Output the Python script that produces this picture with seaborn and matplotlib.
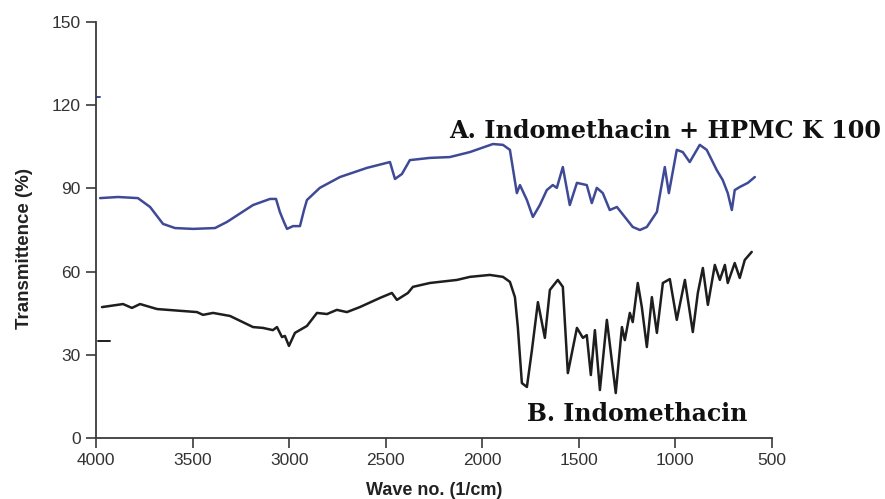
import matplotlib
matplotlib.use("Agg")
import matplotlib.pyplot as plt
import seaborn as sns
import pandas as pd

# Spectrum A: Indomethacin + HPMC K 100 (blue)
wave_a = [3979, 3886, 3783, 3720, 3653, 3591, 3498, 3384, 3322, 3187, 3099, 3068,
          3048, 3027, 3011, 2980, 2944, 2923, 2908, 2841, 2737, 2597, 2478, 2452,
          2416, 2375, 2271, 2168, 2064, 1945, 1893, 1857, 1821, 1805, 1769, 1738,
          1702, 1666, 1635, 1614, 1583, 1547, 1510, 1459, 1433, 1407, 1376, 1340,
          1303, 1221, 1184, 1148, 1096, 1055, 1034, 993, 962, 926, 874, 838, 786,
          755, 729, 708, 693, 667, 625, 589]
trans_a = [86.5, 86.9, 86.5, 83.3, 77.2, 75.7, 75.4, 75.7, 77.9, 84.0, 86.2, 86.2,
           81.5, 77.9, 75.4, 76.4, 76.4, 82.2, 85.8, 90.2, 94.1, 97.4, 99.5, 93.4,
           95.2, 100.2, 101.0, 101.3, 103.1, 106.0, 105.7, 103.9, 88.3, 91.2, 85.8, 79.7,
           84.0, 89.4, 91.2, 90.2, 97.7, 84.0, 92.0, 91.2, 84.7, 90.2, 88.3, 82.2,
           83.3, 76.1, 75.0, 76.1, 81.5, 97.7, 88.3, 103.9, 103.1, 99.5, 105.7, 103.9, 96.6,
           93.0, 88.3, 82.2, 89.4, 90.5, 92.0, 94.1]

# Spectrum B: Indomethacin (black)
wave_b = [3969, 3860, 3814, 3772, 3684, 3477, 3446, 3394, 3306, 3187, 3136, 3084,
          3063, 3037, 3022, 3001, 2970, 2908, 2856, 2804, 2753, 2701, 2634, 2530,
          2468, 2442, 2385, 2359, 2271, 2131, 2064, 1961, 1893, 1857, 1831, 1816,
          1795, 1769, 1743, 1712, 1676, 1650, 1609, 1583, 1557, 1510, 1479, 1459,
          1438, 1417, 1391, 1355, 1309, 1277, 1262, 1236, 1221, 1195, 1174, 1148,
          1122, 1096, 1065, 1029, 993, 951, 910, 884, 858, 832, 796, 770, 744, 729,
          693, 667, 641, 605]
trans_b = [47.2, 48.3, 46.9, 48.3, 46.5, 45.4, 44.4, 45.1, 44.0, 40.0, 39.7, 38.9,
           40.0, 36.4, 36.8, 33.2, 37.9, 40.4, 45.1, 44.7, 46.2, 45.4, 47.2, 50.5,
           52.3, 49.8, 52.3, 54.5, 55.9, 57.0, 58.1, 58.8, 58.1, 56.3, 50.8, 40.0,
           19.8, 18.4, 31.7, 49.0, 36.1, 53.4, 57.0, 54.5, 23.4, 39.7, 36.1, 37.1,
           22.7, 38.9, 17.3, 42.6, 16.2, 40.0, 35.3, 45.1, 41.8, 55.9, 47.2, 32.8,
           50.8, 37.9, 55.9, 57.3, 42.6, 57.0, 38.2, 52.3, 61.3, 48.0, 62.4, 57.0, 62.4, 55.9,
           63.1, 57.7, 64.2, 67.1]

# small stray fragments visible at the left edge of the scan
frag_a_wave = [4000, 3980]
frag_a_trans = [123.0, 123.0]
frag_b_wave = [3990, 3930]
frag_b_trans = [35.0, 35.0]

x_ticks = [4000, 3500, 3000, 2500, 2000, 1500, 1000, 500]
y_ticks = [0, 30, 60, 90, 120, 150]

label_a = "A. Indomethacin + HPMC K 100"
label_b = "B. Indomethacin"
x_label = "Wave no. (1/cm)"
y_label = "Transmittence (%)"

df_a = pd.DataFrame({"wave": wave_a, "trans": trans_a})
df_b = pd.DataFrame({"wave": wave_b, "trans": trans_b})
df_fa = pd.DataFrame({"wave": frag_a_wave, "trans": frag_a_trans})
df_fb = pd.DataFrame({"wave": frag_b_wave, "trans": frag_b_trans})

sns.set_style("ticks")
plt.rcParams["font.family"] = ["Liberation Sans", "DejaVu Sans"]

fig = plt.figure(figsize=(8.85, 4.99), dpi=100)
ax = fig.add_axes([96 / 885, 1 - 438 / 499, (772 - 96) / 885, (438 - 22) / 499])

blue = "#3f4a96"
dark = "#1e1e1e"
line_kw = dict(sort=False, lw=1.8, solid_joinstyle="round", solid_capstyle="round")
sns.lineplot(data=df_a, x="wave", y="trans", color=blue, ax=ax, **line_kw)
sns.lineplot(data=df_b, x="wave", y="trans", color=dark, ax=ax, **line_kw)
sns.lineplot(data=df_fa, x="wave", y="trans", sort=False, color=blue, lw=1.4, ax=ax)
sns.lineplot(data=df_fb, x="wave", y="trans", sort=False, color=dark, lw=1.4, ax=ax)

ax.set_xlim(4000, 500)
ax.set_ylim(0, 150)
ax.set_xticks(x_ticks)
ax.set_yticks(y_ticks)
ax.set_xticklabels([str(t) for t in x_ticks])
ax.tick_params(axis="both", direction="out", length=7, width=1.2, colors="#3a3a3a",
               labelsize=12.5, labelcolor="#333333", pad=4)
for s in ["left", "bottom"]:
    ax.spines[s].set_color("#3a3a3a")
    ax.spines[s].set_linewidth(1.3)
sns.despine(ax=ax)

ax.set_xlabel(x_label, fontsize=13, fontweight="bold", color="#222222")
ax.set_ylabel(y_label, fontsize=13.5, fontweight="bold", color="#222222")
ax.xaxis.set_label_coords(0.5, -0.105)
ax.yaxis.set_label_coords(-0.093, 0.455)

ax.text(2173, 108.2, label_a, family=["DejaVu Serif"], fontweight="bold",
        fontsize=17.2, color="#111111", va="baseline", ha="left")
ax.text(1769, 6.1, label_b, family=["DejaVu Serif"], fontweight="bold",
        fontsize=17, color="#111111", va="baseline", ha="left")

fig.savefig("out.png", dpi=100)
